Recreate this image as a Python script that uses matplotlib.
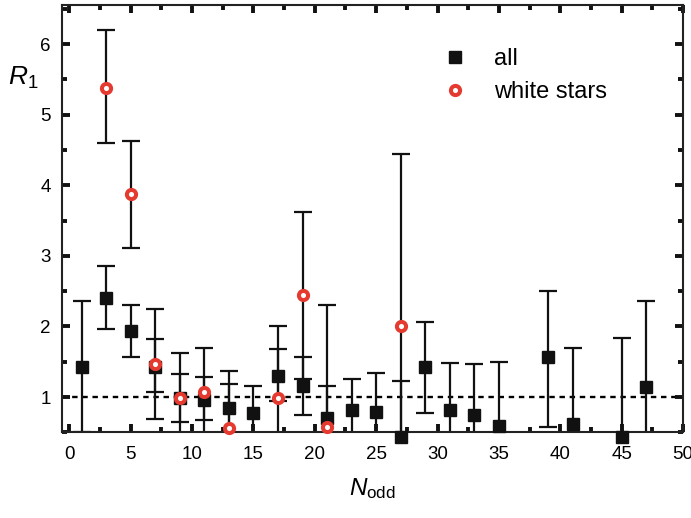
"""Ratio R_1 versus N_odd, for all stars and for white stars only."""

import matplotlib

matplotlib.use("Agg")
import matplotlib.pyplot as plt
import numpy as np
from matplotlib.ticker import MultipleLocator

plt.rcParams["font.family"] = ["Liberation Sans", "DejaVu Sans"]
plt.rcParams["mathtext.fontset"] = "custom"
plt.rcParams["mathtext.rm"] = "Liberation Sans"
plt.rcParams["mathtext.it"] = "Liberation Sans:italic"

# all stars
n_all = [1, 3, 5, 7, 9, 11, 13, 15, 17, 19, 21, 23, 25, 27, 29, 31, 33, 35, 39, 41, 45, 47]
r_all = [1.43, 2.40, 1.94, 1.43, 0.99, 0.96, 0.84, 0.78, 1.30, 1.15, 0.70,
         0.81, 0.79, 0.43, 1.42, 0.81, 0.74, 0.59, 1.56, 0.62, 0.44, 1.14]
hi_all = [2.36, 2.86, 2.31, 1.82, 1.33, 1.29, 1.19, 1.15, 1.68, 1.56, 1.15,
          1.26, 1.34, 1.22, 2.06, 1.48, 1.47, 1.49, 2.50, 1.69, 1.84, 2.36]
lo_all = [0.50, 1.96, 1.57, 1.07, 0.64, 0.67, 0.30, 0.30, 0.94, 0.74, 0.30,
          0.30, 0.30, 0.30, 0.78, 0.30, 0.30, 0.30, 0.57, 0.30, 0.30, 0.30]

# white stars
n_white = [3, 5, 7, 9, 11, 13, 17, 19, 21, 27]
r_white = [5.38, 3.87, 1.47, 0.99, 1.07, 0.56, 0.99, 2.44, 0.57, 2.00]
hi_white = [6.20, 4.63, 2.24, 1.62, 1.69, 1.37, 2.00, 3.62, 2.30, 4.44]
lo_white = [4.60, 3.11, 0.69, 0.30, 0.30, 0.30, 0.30, 1.26, 0.30, 0.30]

RED = "#e53a30"


def _yerr(r, lo, hi):
    r, lo, hi = np.asarray(r), np.asarray(lo), np.asarray(hi)
    return [r - lo, hi - r]


fig = plt.figure(figsize=(6.91, 5.18), dpi=100)
ax = fig.add_axes([0.0897, 0.1654, 0.8987, 0.8246])

ax.axhline(1.0, color="black", linewidth=1.7, linestyle=(0, (2.3, 2.0)), zorder=1)

err_kw = dict(fmt="none", ecolor="#111111", elinewidth=1.6, capsize=6.3, capthick=1.6, zorder=2)
ax.errorbar(n_all, r_all, yerr=_yerr(r_all, lo_all, hi_all), **err_kw)
ax.errorbar(n_white, r_white, yerr=_yerr(r_white, lo_white, hi_white), **err_kw)

ax.plot(n_all, r_all, linestyle="none", marker="s", markersize=9.2, color="#111111",
        clip_on=False, zorder=3, label="all")
ax.plot(n_white, r_white, linestyle="none", marker="o", markersize=6.6,
        markerfacecolor="white", markeredgecolor=RED, markeredgewidth=2.9,
        clip_on=False, zorder=4, label="white stars")

ax.set_xlim(-0.6, 50)
ax.set_ylim(0.5, 6.55)
ax.xaxis.set_major_locator(MultipleLocator(5))
ax.xaxis.set_minor_locator(MultipleLocator(2.5))
ax.set_yticks([1, 2, 3, 4, 5, 6])
ax.yaxis.set_minor_locator(MultipleLocator(0.5))
ax.tick_params(which="both", direction="in", top=True, right=True, labelsize=13.5, color="#111111")
ax.tick_params(which="major", length=6, width=2.8)
ax.tick_params(axis="x", which="major", pad=10)
ax.tick_params(axis="y", which="major", pad=8)
ax.tick_params(which="minor", length=3.5, width=2.8)
for spine in ax.spines.values():
    spine.set_linewidth(1.5)
    spine.set_color("#222222")

ax.set_xlabel(r"$N_{\mathrm{odd}}$", fontsize=17.5, labelpad=9)
ax.set_ylabel(r"$R_1$", fontsize=19, rotation=0, labelpad=0)
ax.yaxis.set_label_coords(-0.062, 0.80)

ax.legend(loc="upper left", bbox_to_anchor=(0.598, 0.922), frameon=False, fontsize=17,
          handlelength=1.0, handletextpad=1.15, labelspacing=0.48, borderaxespad=0)

fig.savefig("out.png", dpi=100)
